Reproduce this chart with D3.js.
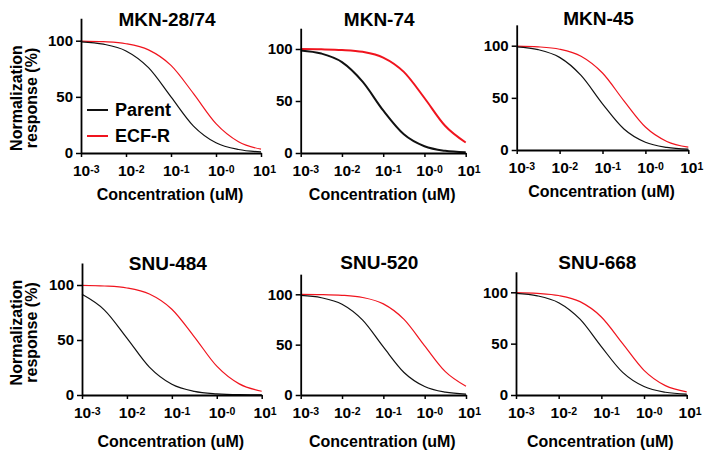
<!DOCTYPE html>
<html><head><meta charset="utf-8">
<script src="https://cdn.jsdelivr.net/npm/d3@7"></script>
<style>
body{margin:0;background:#fff}
text{font-family:"Liberation Sans",Arial,sans-serif;font-weight:bold;fill:#000}
</style>
</head><body><svg id="c" width="711" height="461"></svg>
<script>
// ---------- data ----------
const cellLines = ["MKN-28/74","MKN-74","MKN-45","SNU-484","SNU-520","SNU-668"];
const seriesNames = ["Parent","ECF-R"];
const logConc = [-3,-2.5,-2,-1.5,-1,-0.5,0,0.5,1];
const parentResp = [
  [99.0, 96.9, 90.9, 76.0, 50.0, 24.0, 9.1, 3.1, 1.0],
  [98.6, 95.6, 87.4, 68.6, 40.9, 18.0, 6.5, 2.1, 0.7],
  [98.8, 96.2, 88.8, 71.5, 44.3, 20.1, 7.4, 2.5, 0.8],
  [91.5, 77.2, 51.7, 25.3, 9.7, 3.3, 1.1, 0.3, 0.1],
  [98.9, 96.6, 90.1, 74.3, 47.7, 22.4, 8.4, 2.8, 0.9],
  [98.9, 96.6, 89.9, 73.8, 47.1, 22.0, 8.2, 2.7, 0.9]
];
const ecfResp = [
  [99.7, 99.1, 97.3, 91.8, 78.0, 52.9, 26.2, 10.1, 3.4],
  [99.9, 99.7, 99.1, 97.3, 91.8, 78.0, 52.9, 26.2, 10.1],
  [99.6, 98.9, 96.6, 89.9, 73.8, 47.1, 22.0, 8.2, 2.7],
  [99.7, 99.1, 97.3, 91.8, 78.0, 52.9, 26.2, 10.1, 3.4],
  [99.9, 99.7, 99.0, 96.8, 90.5, 75.1, 48.8, 23.2, 8.7],
  [99.7, 99.0, 96.9, 90.9, 76.0, 50.0, 24.0, 9.1, 3.1]
];
const yTicks = [0, 50, 100];
const xTickExp = [-3, -2, -1, 0, 1];
const xTickSup = ["-3", "-2", "-1", "-0", "1"];
const xTitle = "Concentration (uM)";
const yTitle = ["Normalization", "response (%)"];

// ---------- layout ----------
const frames = [
  {x0:81,  x1:261,   yb:153, y100:40.7, lw:1.2, titleY:26},
  {x0:300.7,x1:465.7,yb:153, y100:49,   lw:2.0, titleY:26},
  {x0:516.7,x1:688.3,yb:150, y100:45.7, lw:1.2, titleY:25},
  {x0:82,  x1:261.7, yb:395, y100:285,  lw:1.2, titleY:270},
  {x0:300.7,x1:466,  yb:395, y100:294.3,lw:1.2, titleY:269},
  {x0:516, x1:686.7, yb:395, y100:292.3,lw:1.2, titleY:269}
];
const colors = {"Parent":"#111", "ECF-R":"#f0141e"};

const svg = d3.select("#c");

frames.forEach((f, i) => {
  const k = (f.yb - f.y100) / 100;
  const x = d3.scaleLog().domain([1e-3, 1e1]).range([f.x0, f.x1]);
  const y = d3.scaleLinear().domain([0, 120]).range([f.yb, f.yb - 120 * k]);
  const g = svg.append("g");

  // curves
  const line = d3.line().x(d => x(Math.pow(10, d[0]))).y(d => y(d[1])).curve(d3.curveMonotoneX);
  [["ECF-R", ecfResp[i]], ["Parent", parentResp[i]]].forEach(([name, vals]) => {
    g.append("path")
      .datum(logConc.map((c, j) => [c, vals[j]]))
      .attr("d", line)
      .attr("fill", "none")
      .attr("stroke", colors[name])
      .attr("stroke-width", f.lw);
  });

  // y axis
  const ya = g.append("g").attr("transform", `translate(${f.x0},0)`)
    .call(d3.axisLeft(y).tickValues(yTicks).tickSize(5).tickSizeOuter(0).tickPadding(3));
  ya.selectAll("text").style("font-size", "15px").attr("fill", "#000");

  // x axis
  const xa = g.append("g").attr("transform", `translate(0,${f.yb})`)
    .call(d3.axisBottom(x).tickValues(xTickExp.map(e => Math.pow(10, e))).tickSize(4).tickSizeOuter(0).tickFormat(() => ""));
  xa.selectAll(".tick text").each(function(d, j) {
    const t = d3.select(this).attr("text-anchor", "start").attr("x", -8.6).attr("y", 11.5)
      .style("font-size", "15.5px").attr("fill", "#000").attr("dy", "0.71em");
    t.text("10");
    t.append("tspan").attr("dy", "-0.25em").style("font-size", "10.5px").text(xTickSup[j]);
  });

  [ya, xa].forEach(a => {
    a.select(".domain").attr("stroke", "#000").attr("stroke-width", 1.8);
    a.selectAll(".tick line").attr("stroke", "#000").attr("stroke-width", 1.5);
  });

  // title
  g.append("text").attr("x", (f.x0 + f.x1) / 2 - 4).attr("y", f.titleY)
    .attr("text-anchor", "middle").style("font-size", "19px").text(cellLines[i]);

  // x title
  g.append("text").attr("x", (f.x0 + f.x1) / 2 - 1).attr("y", f.yb + (i < 3 ? 47 : 52))
    .attr("text-anchor", "middle").style("font-size", "16px").text(xTitle);
});

// y titles (first column)
[{cy:98}, {cy:332.5}].forEach(p => {
  const t = svg.append("text").attr("transform", `translate(21.7,${p.cy}) rotate(-90)`)
    .attr("text-anchor", "middle").style("font-size", "16px");
  t.append("tspan").attr("x", 0).attr("y", 0).text(yTitle[0]);
  t.append("tspan").attr("x", 0).attr("y", 15.8).text(yTitle[1]);
});

// legend in first panel
const leg = svg.append("g");
seriesNames.forEach((n, j) => {
  const yy = 110 + j * 26;
  leg.append("line").attr("x1", 87).attr("x2", 108).attr("y1", yy).attr("y2", yy)
    .attr("stroke", colors[n]).attr("stroke-width", 2);
  leg.append("text").attr("x", 115).attr("y", yy + 6).style("font-size", "18px").text(n);
});
</script>
</body></html>
